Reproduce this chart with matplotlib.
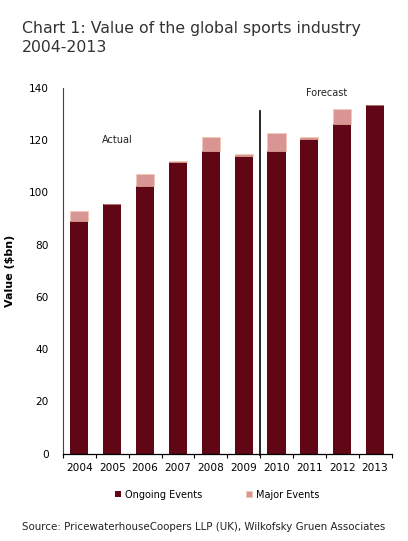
import matplotlib.pyplot as plt
import numpy as np

years = ['2004', '2005', '2006', '2007', '2008', '2009', '2010', '2011', '2012', '2013']
ongoing = [88.9, 95.5, 102.3, 111.6, 116.0, 114.1, 115.8, 120.6, 126.1, 133.4]
major = [3.8, 0.0, 4.9, 0.6, 5.4, 0.7, 6.9, 0.6, 5.9, 0.0]

dark = '#600614'
pink = '#d99594'

fig = plt.figure(figsize=(4.08, 5.41), dpi=100)
ax = fig.add_axes([63 / 408, 1 - 453.5 / 541, (391.5 - 63) / 408, (453.5 - 88) / 541])

x = np.arange(len(years))
ax.bar(x, ongoing, width=0.55, color=dark, label='Ongoing Events', zorder=2)
ax.bar(x, major, width=0.55, bottom=ongoing, color=pink, edgecolor='#f3c9a8',
       linewidth=0.4, label='Major Events', zorder=2)

ax.set_xlim(-0.5, len(years) - 0.5)
ax.set_ylim(0, 140)
ax.set_yticks(range(0, 141, 20))
ax.set_xticks(x)
ax.set_xticklabels(years)
ax.set_xticks(np.arange(-0.5, len(years), 1), minor=True)
ax.tick_params(axis='x', which='major', length=0, labelsize=7.6, pad=7)
ax.tick_params(axis='x', which='minor', length=3, direction='out', width=0.8)
ax.tick_params(axis='y', length=0, labelsize=7.6, pad=10)
for s in ['top', 'right']:
    ax.spines[s].set_visible(False)
ax.spines['left'].set_color('#444444')
ax.spines['left'].set_linewidth(0.8)
ax.spines['bottom'].set_linewidth(0.9)

# actual / forecast divider
ax.plot([5.5, 5.5], [-0.5, 131.3], color='black', linewidth=1.2, zorder=3, clip_on=False)
ax.text(1.14, 120, 'Actual', fontsize=7, ha='center', va='center', color='#222222')
ax.text(7.54, 138, 'Forecast', fontsize=7, ha='center', va='center', color='#222222')

ax.set_ylabel('Value ($bn)', fontsize=8, fontweight='bold', labelpad=10)

fig.text(22 / 408, 1 - 38 / 541, 'Chart 1: Value of the global sports industry\n2004-2013',
         fontsize=11.3, ha='left', va='center', color='#333333', linespacing=1.35)

ax.legend(loc='upper center', bbox_to_anchor=(0.47, -0.075), ncol=2, frameon=False,
          fontsize=7, handlelength=0.6, handleheight=0.6, columnspacing=4.5,
          handletextpad=0.4)

fig.text(22 / 408, 1 - 527.5 / 541,
         'Source: PricewaterhouseCoopers LLP (UK), Wilkofsky Gruen Associates',
         fontsize=7.4, ha='left', va='center', color='#222222')

fig.savefig('out.png', dpi=100)
